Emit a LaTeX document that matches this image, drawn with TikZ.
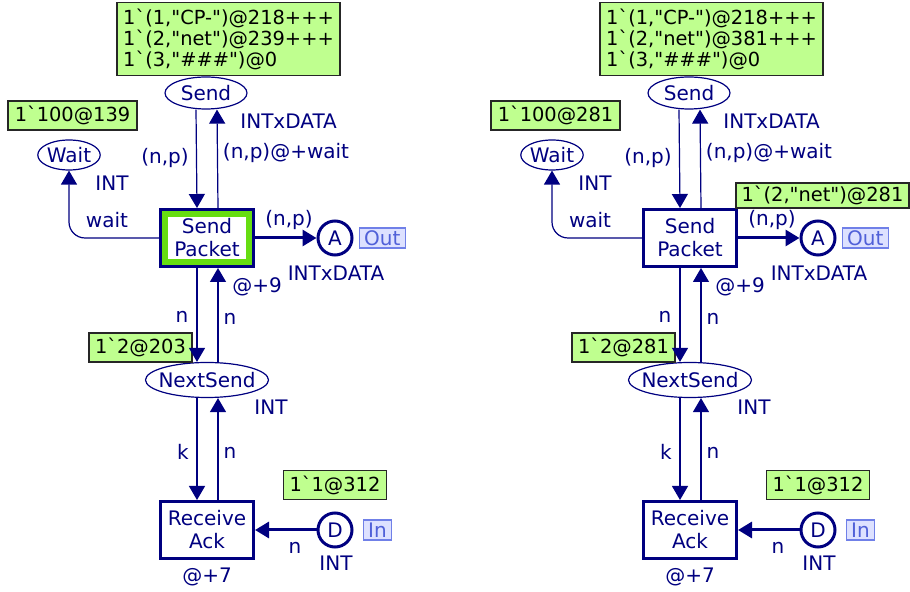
\documentclass[tikz,border=0pt]{standalone}
\usepackage{fontspec}
\usepackage{tikz}
\usetikzlibrary{shapes.geometric, arrows.meta, positioning}
\newfontfamily\cpnfont{DejaVu Sans}
\definecolor{cpnnavy}{RGB}{0,0,128}
\definecolor{tokgreen}{RGB}{191,255,143}
\definecolor{hlgreen}{RGB}{102,221,17}
\definecolor{tagfill}{RGB}{221,225,255}
\definecolor{tagline}{RGB}{112,128,232}
\definecolor{tagtext}{RGB}{80,96,216}

\begin{document}
\begin{tikzpicture}[
        x=0.5pt, y=-0.5pt,
        font=\cpnfont\fontsize{10}{10.5}\selectfont,
        place/.style = {draw=cpnnavy, ellipse, line width=0.6pt, text=cpnnavy, inner sep=0pt},
        port/.style = {draw=cpnnavy, circle, line width=1.5pt, minimum size=17pt, inner sep=0pt, text=cpnnavy},
        trans/.style = {draw=cpnnavy, rectangle, line width=1.5pt, minimum width=46.5pt, minimum height=28.5pt, align=center, text=cpnnavy, font=\cpnfont\fontsize{10}{11.5}\selectfont},
        token/.style = {draw=black!85, fill=tokgreen, line width=0.8pt, align=left, inner sep=1.5pt, minimum height=14.5pt, text=black, font=\cpnfont\fontsize{9.7}{10.5}\selectfont},
        tag/.style = {draw=tagline, fill=tagfill, text=tagtext, line width=0.6pt, inner xsep=2.5pt, inner ysep=0pt, minimum height=10pt},
        inscr/.style = {text=cpnnavy, inner sep=0pt},
        arc/.style = {draw=cpnnavy, line width=0.6pt, -{Triangle[length=7pt, width=8pt]}},
        thickarc/.style = {arc, line width=1.5pt}
    ]
    \useasboundingbox (0,0) rectangle (910,592);

    \foreach \dx/\tSend/\tWait/\tNext/\n in {0/239/139/203/l, 483/381/281/281/r} {
    \begin{scope}[shift={(\dx,0)}]
        % places and ports
        \node (send-\n) [place, minimum width=41pt, minimum height=16pt] at (206,93) {Send};
        \node (wait-\n) [place, minimum width=29pt, minimum height=15pt] at (69,155) {Wait};
        \node (next-\n) [place, inner xsep=-2.6pt, minimum width=61.5pt, minimum height=17.5pt] at (207,380) {NextSend};
        \node (a-\n) [port] at (335,238) {A};
        \node (d-\n) [port] at (335,530) {D};
        \node (out-\n) [tag, right=2.5pt of a-\n] {Out};
        \node (in-\n) [tag, right=4.5pt of d-\n] {In};

        % transitions
        \node (sp-\n) [trans] at (207,238) {Send\\Packet};
        \node (ra-\n) [trans] at (207,530) {Receive\\Ack};

        % markings
        \node (toksend-\n) [token, minimum width=111.5pt, minimum height=36.5pt, above=0pt of send-\n, xshift=11.25pt]
            {1`(1,"CP-")@218+++\\1`(2,"net")@\tSend+++\\1`(3,"\#\#\#")@0};
        \node (tokwait-\n) [token, minimum width=64.5pt] at (72.5,115.5) {1`100@\tWait};
        \node (toknext-\n) [token, minimum width=51.5pt] at (140.5,347.5) {1`2@\tNext};
        \node (tokd-\n) [token, minimum width=51.5pt, above=5.5pt of d-\n] {1`1@312};

        % colour sets and inscriptions
        \node (tsend-\n) [inscr, anchor=west] at (240,121) {INTxDATA};
        \node (twait-\n) [inscr] at (112,183) {INT};
        \node (ta-\n) [inscr] at (336,273) {INTxDATA};
        \node (tnext-\n) [inscr] at (271,407) {INT};
        \node (td-\n) [inscr] at (336,563) {INT};
        \node (dsp-\n) [inscr] at (257,287) {@+9};
        \node (dra-\n) [inscr] at (207,577) {@+7};
        \node (e1-\n) [inscr] at (165,158) {(n,p)};
        \node (e2-\n) [inscr] at (286,153) {(n,p)@+wait};
        \node (e3-\n) [inscr] at (107,220) {wait};
        \node (e4-\n) [inscr] at (289,220) {(n,p)};
        \node (e5-\n) [inscr] at (182,317) {n};
        \node (e6-\n) [inscr] at (230,319) {n};
        \node (e7-\n) [inscr] at (183,452) {k};
        \node (e8-\n) [inscr] at (230,453) {n};
        \node (e9-\n) [inscr] at (295,548) {n};

        % arcs
        \draw [arc] ([xshift=-5pt]send-\n.south) -- ([xshift=-5pt]sp-\n.north);
        \draw [arc] ([xshift=5.5pt]sp-\n.north) -- ([xshift=5.5pt]send-\n.south);
        \draw [arc, rounded corners=8pt] (sp-\n.west) -| (wait-\n.south);
        \draw [thickarc] (sp-\n) -- (a-\n);
        \draw [arc] ([xshift=-5pt]sp-\n.south) -- ([xshift=-5pt]next-\n.north);
        \draw [arc] ([xshift=5.5pt]next-\n.north) -- ([xshift=5.5pt]sp-\n.south);
        \draw [arc] ([xshift=-5pt]next-\n.south) -- ([xshift=-5pt]ra-\n.north);
        \draw [arc] ([xshift=5.5pt]ra-\n.north) -- ([xshift=5.5pt]next-\n.south);
        \draw [thickarc] (d-\n) -- (ra-\n);
    \end{scope}
    }

    % enabled transition
    \draw [hlgreen, line width=3pt] ([shift={(3pt,-3pt)}]sp-l.north west) rectangle ([shift={(-3pt,3pt)}]sp-l.south east);

    % token on the output arc
    \node (toksp-r) [token, minimum width=86.5pt, minimum height=12pt] at (822.5,195.5) {1`(2,"net")@281};

\end{tikzpicture}
\end{document}
